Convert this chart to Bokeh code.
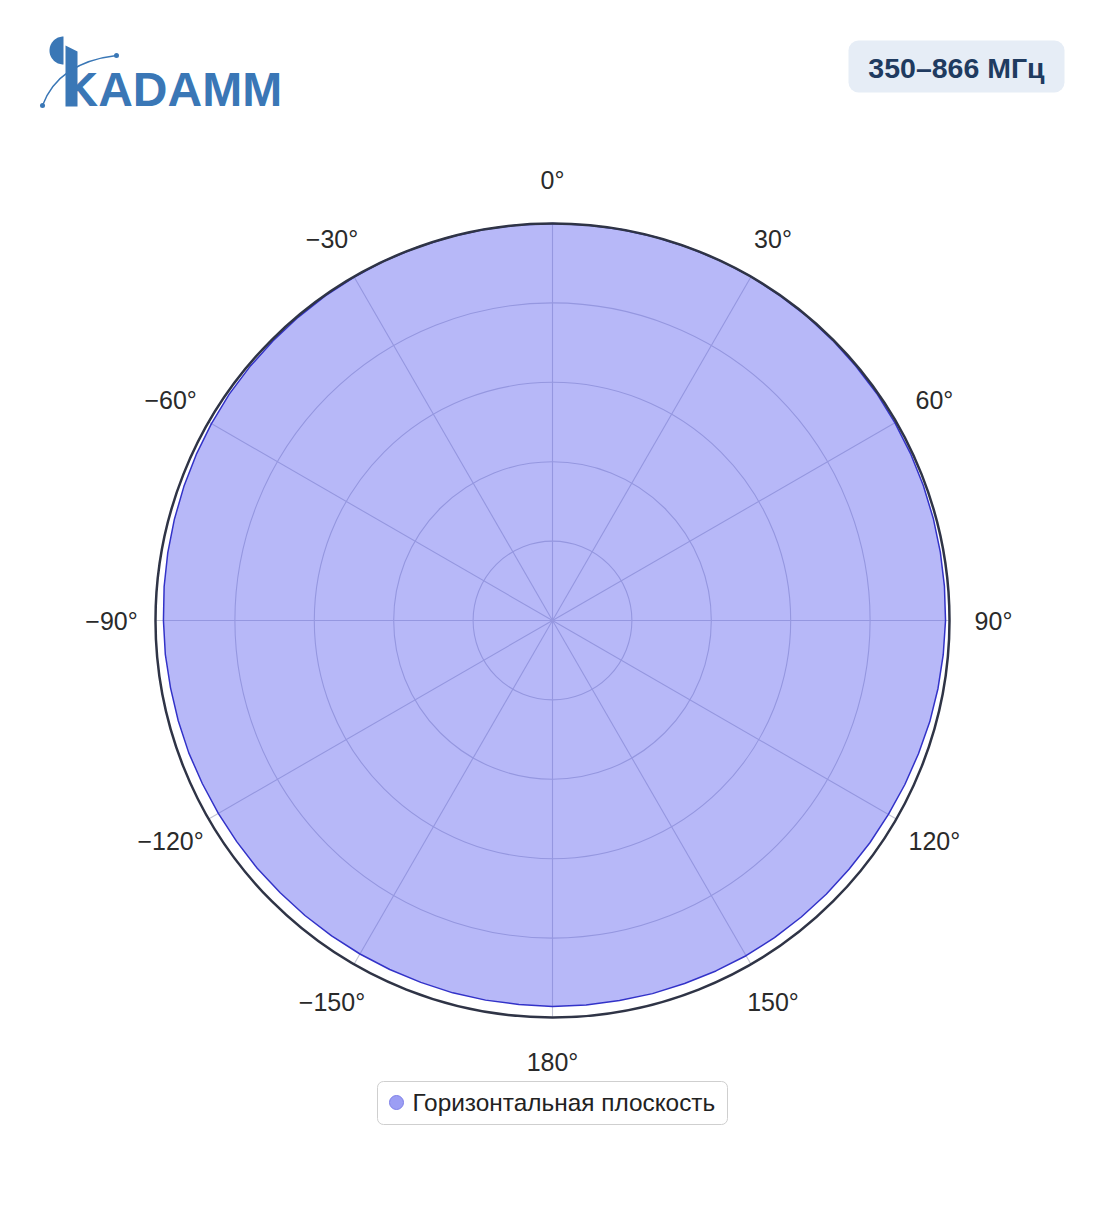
import numpy as np
from bokeh.plotting import figure
from bokeh.models import Range1d
from bokeh.embed import file_html
from bokeh.resources import INLINE
from bokeh.core.properties import value

# ---------------- data ----------------
angles_deg = list(range(0, 360, 5))
gain = [1.000, 1.000, 1.000, 1.000, 1.000, 1.000, 1.000, 0.999, 0.999, 0.998,
        0.997, 0.997, 0.996, 0.995, 0.994, 0.993, 0.992, 0.991, 0.990, 0.988,
        0.986, 0.984, 0.981, 0.979, 0.977, 0.976, 0.975, 0.975, 0.975, 0.975,
        0.975, 0.974, 0.973, 0.973, 0.972, 0.972, 0.972, 0.971, 0.971, 0.971,
        0.970, 0.970, 0.970, 0.970, 0.970, 0.970, 0.971, 0.971, 0.972, 0.973,
        0.975, 0.976, 0.977, 0.979, 0.980, 0.982, 0.984, 0.986, 0.988, 0.990,
        0.992, 0.994, 0.995, 0.996, 0.997, 0.998, 0.999, 1.000, 1.000, 1.000,
        1.000, 1.000]
tick_angles = [0, 30, 60, 90, 120, 150, 180, 210, 240, 270, 300, 330]
tick_labels = ["0°", "30°", "60°", "90°", "120°", "150°", "180°",
               "−150°", "−120°", "−90°", "−60°", "−30°"]
grid_r = [0.2, 0.4, 0.6, 0.8]
series_name = "Горизонтальная плоскость"
band_label = "350–866 МГц"
logo_text = "KADAMM"

FONT = value("Liberation Sans")

W, H = 1088, 1195
p = figure(width=W, height=H, x_range=Range1d(0, W), y_range=Range1d(H, 0),
           output_backend="svg", toolbar_location=None, min_border=0,
           x_axis_type=None, y_axis_type=None)
p.grid.visible = False
p.outline_line_color = None
p.background_fill_color = "white"
p.border_fill_color = "white"

cx, cy, R = 552, 620, 397


def to_xy(a_deg, r):
    t = np.radians(np.asarray(a_deg, dtype=float))
    r = np.asarray(r, dtype=float)
    return cx + r * R * np.sin(t), cy - r * R * np.cos(t)


GRID = "#c2c4d4"
# grid circles
p.circle(x=[cx] * len(grid_r), y=[cy] * len(grid_r), radius=[g * R for g in grid_r],
         fill_color=None, line_color=GRID, line_width=1.1)
# spokes
sx, sy = to_xy(tick_angles, [1.0] * len(tick_angles))
p.multi_line(xs=[[cx, x] for x in sx], ys=[[cy, y] for y in sy],
             line_color=GRID, line_width=1.1)

# data fill
gx, gy = to_xy(angles_deg + [angles_deg[0]], gain + [gain[0]])
p.patch(list(gx), list(gy), fill_color="#5a5ef0", fill_alpha=0.44,
        line_color="#3232c8", line_width=1.5)

# outer circle
p.circle(x=[cx], y=[cy], radius=[R], fill_color=None, line_color="#2f3446", line_width=2.5)

# angular labels
lx, ly = to_xy(tick_angles, [441 / R] * len(tick_angles))
p.text(x=list(lx), y=list(ly), text=tick_labels, text_font=FONT, text_font_size="25px",
       text_align="center", text_baseline="middle", text_color="#2a2a2a")

# legend
p.quad(left=[377], right=[727], top=[1081], bottom=[1124], fill_color="white",
       line_color="#cfcfcf", line_width=1, border_radius=6)
p.scatter(x=[396], y=[1102], size=14, fill_color="#9c9ef4", line_color="#7e80e8", line_width=1)
p.text(x=[412], y=[1102], text=[series_name], text_font=FONT, text_font_size="24.4px",
       text_align="left", text_baseline="middle", text_color="#222222")

# badge
p.quad(left=[848], right=[1064], top=[40], bottom=[92], fill_color="#e6edf6",
       line_color=None, border_radius=10)
p.text(x=[956], y=[67], text=[band_label], text_font=FONT, text_font_size="28.5px",
       text_font_style="bold", text_align="center", text_baseline="middle", text_color="#1f3b60")

# logo
LC = "#3a77b6"
t = np.radians(np.linspace(90, 270, 40))
p.patch(list(63 + 14 * np.cos(t)), list(50 - 14 * np.sin(t)), fill_color=LC, line_color=None)
p.patch([65, 77, 77, 65], [45, 51, 106, 106], fill_color=LC, line_color=None)
p.text(x=[63], y=[89], text=[logo_text], text_font=FONT, text_font_size="48px",
       text_font_style="bold", text_align="left", text_baseline="middle", text_color=LC)
p.quadratic(x0=[42], y0=[105], x1=[116], y1=[55], cx=[58], cy=[62], line_color=LC, line_width=1.5)
p.scatter(x=[42, 116], y=[105, 55], size=5, fill_color=LC, line_color=None)

open("out.html", "w").write(file_html(p, INLINE))
